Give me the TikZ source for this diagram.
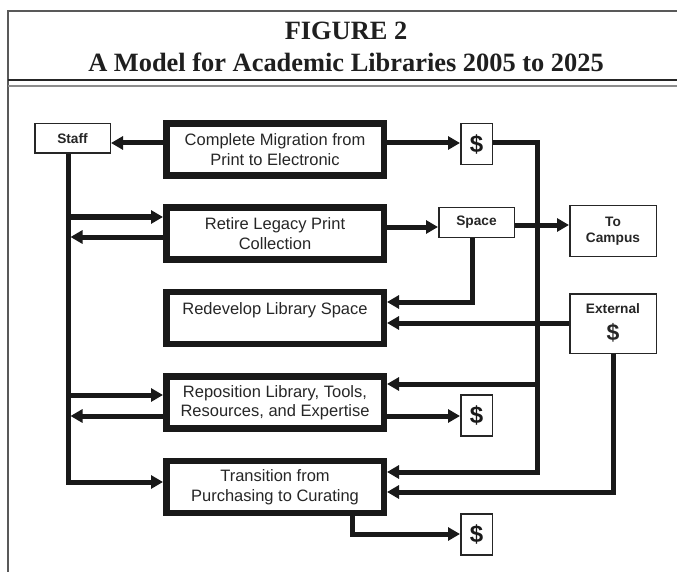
\documentclass[tikz,border=0pt]{standalone}
\usepackage{fontspec}
\setmainfont{Liberation Sans}
\newfontfamily\titlefont{Liberation Serif}
\usetikzlibrary{arrows.meta}
\begin{document}
\begin{tikzpicture}[x=1pt,y=-1pt,
  bigbox/.style={draw=black!90, line width=6.5pt, minimum width=217.5pt, minimum height=52pt, inner sep=0pt, align=center, font=\fontsize{16.5}{19.5}\selectfont, text=black!85},
  smallbox/.style={draw=black!85, line width=1.5pt, inner sep=0pt, align=center, font=\fontsize{13.7}{16}\selectfont\bfseries, text=black!85},
  dollar/.style={draw=black!85, line width=1.5pt, inner sep=0pt, minimum width=31.5pt, minimum height=41pt, font=\fontsize{24}{24}\selectfont\bfseries, text=black!90},
  conn/.style={line width=5pt, draw=black!90},
  arr/.style={conn, -{Triangle[length=12pt,width=13pt]}},
  titletext/.style={font=\titlefont\bfseries\fontsize{26.4}{26.4}\selectfont, anchor=base, text=black!88, inner sep=0pt},
  frame/.style={draw=black!65, line width=1.5pt}
]
\useasboundingbox (0,0) rectangle (677,572);
% frame
\draw[frame] (8,572) -- (8,11) -- (677,11);
\draw[black!85, line width=1.2pt] (8,80) -- (677,80);
\draw[black!45, line width=2.5pt] (8,86) -- (677,86);
\node[titletext] (t1) at (346,40) {FIGURE 2};
\node[titletext] (t2) at (346,72) {A Model for Academic Libraries 2005 to 2025};
% nodes
\node[smallbox, minimum width=75.5pt, minimum height=29.5pt] (staff) at (72.5,138.5) {Staff};
\node[bigbox] (cm) at (275,149.5) {Complete Migration from\\Print to Electronic};
\node[bigbox] (ret) at (275,233.5) {Retire Legacy Print\\Collection};
\node[bigbox] (red) at (275,318) {Redevelop Library Space\\\mbox{}};
\node[bigbox] (rep) at (275,402.5) {Reposition Library, Tools,\\Resources, and Expertise};
\node[bigbox] (tra) at (275,487) {Transition from\\Purchasing to Curating};
\node[dollar] (d1) at (476.5,144) {\$};
\node[smallbox, minimum width=75.5pt, minimum height=29.5pt] (space) at (476.5,222.5) {Space};
\node[smallbox, minimum width=86.5pt, minimum height=50.5pt] (camp) at (613,231) {To\\Campus};
\node[smallbox, minimum width=86.5pt, minimum height=59.5pt] (ext) at (613,323.5) {\raisebox{4pt}{\begin{tabular}{@{}c@{}}External\\[5pt]{\fontsize{23}{23}\selectfont\$}\end{tabular}}};
\node[dollar] (d2) at (476.5,415.5) {\$};
\node[dollar] (d3) at (476.5,534.5) {\$};
% helper coordinates
\coordinate (sv) at (68,154);
\coordinate (sve) at (70.5,154);
\coordinate (rv) at (537,143);
% connectors
\draw[arr] (cm.west |- 0,143) -- (staff.east |- 0,143);
\draw[arr] (cm.east |- 0,143) -- (d1.west |- 0,143);
\draw[arr] (d1.east |- rv) -- (rv) |- (tra.east |- 0,472);
\draw[arr] (rv |- 0,384) -- (rep.east |- 0,384);
\draw[arr] (staff.south -| sv) |- (tra.west |- 0,482);
\draw[arr] (sv |- 0,217) -- (ret.west |- 0,217);
\draw[arr] (ret.west |- 0,237) -- (sve |- 0,237);
\draw[arr] (sv |- 0,395) -- (rep.west |- 0,395);
\draw[arr] (rep.west |- 0,416) -- (sve |- 0,416);
\draw[arr] (ret.east |- 0,227) -- (space.west |- 0,227);
\draw[arr] (space.east |- 0,225) -- (camp.west |- 0,225);
\draw[arr] (space.south -| 472,0) |- (red.east |- 0,302);
\draw[arr] (ext.west |- 0,323) -- (red.east |- 0,323);
\draw[arr] (ext.south) |- (tra.east |- 0,492);
\draw[arr] (rep.east |- 0,416) -- (d2.west |- 0,416);
\draw[arr] (tra.south -| 352,0) |- (d3.west |- 0,534);
\end{tikzpicture}
\end{document}
